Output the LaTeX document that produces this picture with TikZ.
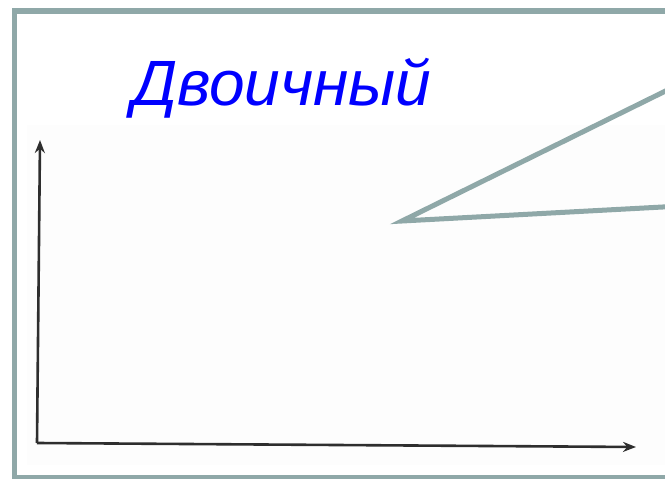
\documentclass[tikz,border=0pt]{standalone}
\usepackage{fontspec}
\setmainfont{Liberation Sans}
\usetikzlibrary{arrows.meta}
\definecolor{frame}{HTML}{8FA8A8}
\definecolor{axis}{HTML}{2E2E2E}
\definecolor{titleblue}{HTML}{0000FF}
\tikzset{
  framestyle/.style={draw=frame, line width=5.5pt},
  axisstyle/.style={draw=axis, line width=2.6pt, -{Stealth[length=13pt,width=10pt]}},
  calloutstyle/.style={draw=frame, line width=5pt, line join=miter},
}
\begin{document}
\begin{tikzpicture}[x=1pt,y=-1pt]
\useasboundingbox (0,0) rectangle (665,479);
\fill[white] (0,0) rectangle (665,479);
\draw[framestyle] (14.5,11) rectangle (690,477.5);
\fill[black!0.6] (27,125) rectangle (665,465);
\node[anchor=base west, inner sep=0pt, text=titleblue, font=\fontsize{64}{66}\selectfont\itshape] (title) at (132,105) {Двоичный};
\coordinate (origin) at (37,443);
\coordinate (ytip) at (40,140);
\coordinate (xtip) at (636,447);
\draw[axisstyle] (origin) -- (ytip);
\draw[axisstyle] (origin) -- (xtip);
\coordinate (cA) at (402,221);
\coordinate (cB) at (700,74);
\coordinate (cC) at (700,205);
\draw[calloutstyle] (cB) -- (cA) -- (cC);
\end{tikzpicture}
\end{document}
